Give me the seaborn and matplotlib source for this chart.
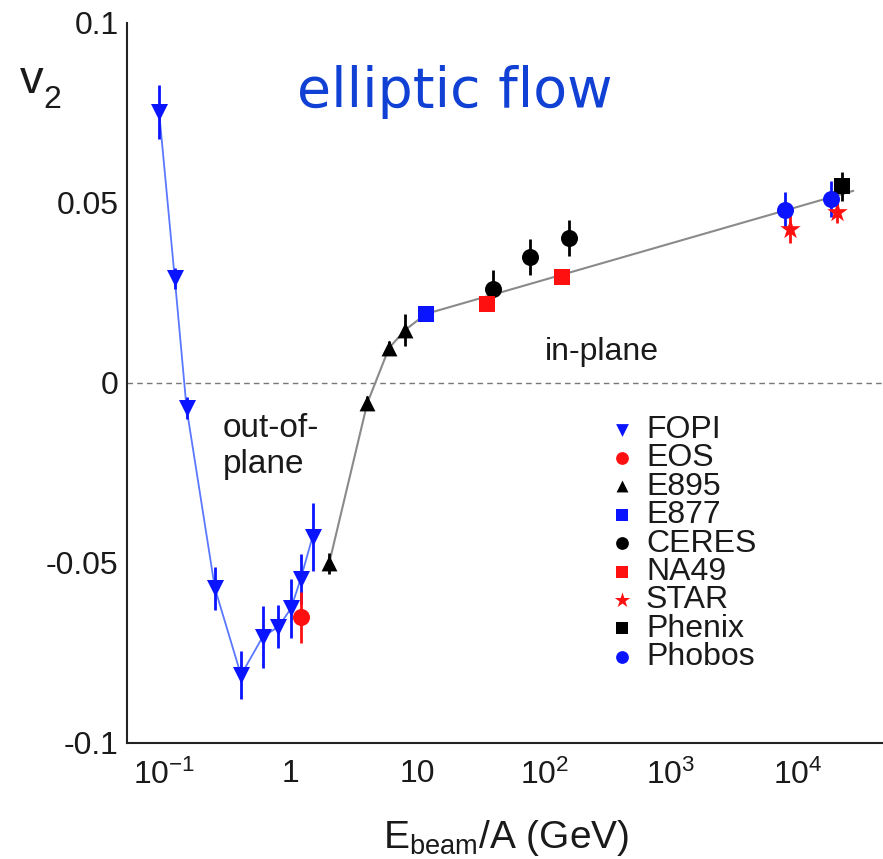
import numpy as np
import pandas as pd
import matplotlib
matplotlib.use("Agg")
import matplotlib.pyplot as plt
import seaborn as sns

# ---------------- data ----------------
fopi_E = [0.091, 0.121, 0.150, 0.251, 0.403, 0.598, 0.795, 1.00, 1.19, 1.48]
fopi_v2 = [0.0753, 0.0290, -0.0071, -0.0571, -0.0812, -0.0706, -0.0678, -0.0627, -0.0546, -0.0428]
fopi_err = [0.0075, 0.003, 0.003, 0.006, 0.0067, 0.0086, 0.006, 0.0083, 0.007, 0.0095]

eos_E = [1.19]
eos_v2 = [-0.0652]
eos_err = [0.0072]

e895_E = [2.0, 4.0, 5.93, 7.94]
e895_v2 = [-0.0502, -0.0057, 0.0096, 0.0146]
e895_err = [0.003, 0.002, 0.002, 0.0045]

e877_E = [11.6]
e877_v2 = [0.0191]
e877_err = [0.002]

ceres_E = [39.0, 77.0, 156.0]
ceres_v2 = [0.0260, 0.0350, 0.0402]
ceres_err = [0.0053, 0.005, 0.005]

na49_E = [35.4, 138.0]
na49_v2 = [0.0219, 0.0294]
na49_err = [0.002, 0.002]

star_E = [8700.0, 20400.0]
star_v2 = [0.0427, 0.0475]
star_err = [0.004, 0.003]

phenix_E = [22400.0]
phenix_v2 = [0.0546]
phenix_err = [0.004]

phobos_E = [7925.0, 18200.0]
phobos_v2 = [0.0480, 0.0510]
phobos_err = [0.005, 0.005]

# trend line through the higher-energy data
trend_E = [2.0, 4.0, 5.93, 7.94, 11.6, 27400.0]
trend_v2 = [-0.0502, -0.0057, 0.0096, 0.0146, 0.0191, 0.0533]

xtick_vals = [0.1, 1, 10, 100, 1000, 10000]
xtick_labels = ["10$^{-1}$", "1", "10", "10$^{2}$", "10$^{3}$", "10$^{4}$"]
ytick_vals = [-0.1, -0.05, 0, 0.05, 0.1]
ytick_labels = ["-0.1", "-0.05", "0", "0.05", "0.1"]

# ---------------- style ----------------
sns.set_theme(style="white")
plt.rcParams["font.family"] = ["Liberation Sans", "DejaVu Sans"]
plt.rcParams["mathtext.fontset"] = "custom"
plt.rcParams["mathtext.rm"] = "Liberation Sans"
plt.rcParams["mathtext.it"] = "Liberation Sans"
plt.rcParams["mathtext.default"] = "regular"

BLUE = "#0a14ff"
RED = "#ff1010"
BLACK = "#000000"
TXT = "#1a1a1a"

W, H = 883, 859
fig = plt.figure(figsize=(W / 100, H / 100), dpi=100)
ax = fig.add_axes([127 / W, 1 - 742.7 / H, 1 - 127 / W, (742.7 - 22.7) / H])

# lines
sns.lineplot(x=fopi_E, y=fopi_v2, ax=ax, color="#5a78ff", lw=1.3, sort=False, zorder=2)
sns.lineplot(x=trend_E, y=trend_v2, ax=ax, color="#8a8a8a", lw=1.5, sort=False, zorder=2)
ax.axhline(0, color="#777777", lw=1.0, ls=(0, (4, 3)), zorder=1)

series = [
    ("FOPI", fopi_E, fopi_v2, fopi_err, BLUE, "v", 150),
    ("EOS", eos_E, eos_v2, eos_err, RED, "o", 150),
    ("E895", e895_E, e895_v2, e895_err, BLACK, "^", 130),
    ("E877", e877_E, e877_v2, e877_err, BLUE, "s", 140),
    ("CERES", ceres_E, ceres_v2, ceres_err, BLACK, "o", 150),
    ("NA49", na49_E, na49_v2, na49_err, RED, "s", 140),
    ("STAR", star_E, star_v2, star_err, RED, "*", 240),
    ("Phenix", phenix_E, phenix_v2, phenix_err, BLACK, "s", 140),
    ("Phobos", phobos_E, phobos_v2, phobos_err, BLUE, "o", 150),
]

for name, E, v, err, col, mk, s in series:
    ax.errorbar(E, v, yerr=err, fmt="none", ecolor=col, elinewidth=2.0, capsize=0, zorder=3)
    df = pd.DataFrame({"E": E, "v2": v})
    sns.scatterplot(data=df, x="E", y="v2", ax=ax, marker=mk, color=col, s=s,
                    edgecolor=col, linewidth=0, label=name, zorder=4)

ax.set_xscale("log")
ax.set_xlim(0.0508, 47000)
ax.set_ylim(-0.1, 0.1)

ax.set_xticks(xtick_vals)
ax.set_xticklabels(xtick_labels)
ax.set_yticks(ytick_vals)
ax.set_yticklabels(ytick_labels)
ax.set_yticks([-0.075, -0.025, 0.025, 0.075], minor=True)

ax.tick_params(axis="both", which="major", direction="in", length=16.5, width=1.2,
               color="#222222", labelsize=23, labelcolor=TXT, pad=6)
ax.tick_params(axis="both", which="minor", direction="in", length=9.5, width=1.0,
               color="#222222")
ax.tick_params(axis="x", which="major", pad=12)

for side in ["top", "right"]:
    ax.spines[side].set_visible(False)
for side in ["left", "bottom"]:
    ax.spines[side].set_color("#222222")
    ax.spines[side].set_linewidth(1.5)

ax.set_xlabel("")
ax.set_ylabel("")
fig.text(506 / W, 1 - 848 / H, "E$_{beam}$/A (GeV)", fontsize=28, color=TXT,
         ha="center", va="baseline")
fig.text(20 / W, 1 - 93 / H, "v", fontsize=34, color=TXT, ha="left", va="baseline")
fig.text(43 / W, 1 - 108 / H, "2", fontsize=23, color=TXT, ha="left", va="baseline")

fig.text(455 / W, 1 - 107 / H, "elliptic flow", fontsize=40, color="#1040d4",
         family="DejaVu Sans", ha="center", va="baseline")

ax.text(0.290, -0.0151, "out-of-", fontsize=24, color=TXT, ha="left", va="baseline")
ax.text(0.290, -0.0251, "plane", fontsize=24, color=TXT, ha="left", va="baseline")
ax.text(101, 0.0063, "in-plane", fontsize=23, color=TXT, ha="left", va="baseline")

leg = ax.legend(loc="upper left",
                bbox_to_anchor=((590 - 127) / 756, (742.7 - 399) / 720),
                frameon=False, fontsize=23, handletextpad=0.25, labelspacing=-0.05,
                borderpad=0, handlelength=1.0, markerscale=0.75)
for t in leg.get_texts():
    t.set_color(TXT)

fig.savefig("out.png", dpi=100)
